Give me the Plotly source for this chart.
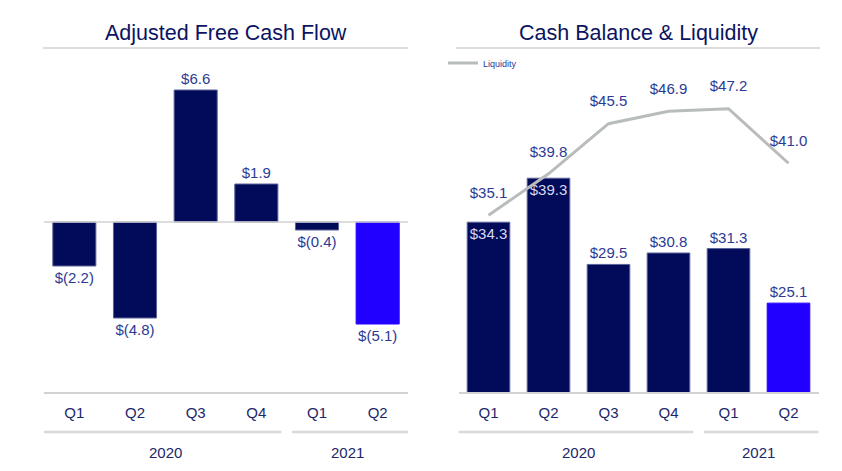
import plotly.graph_objects as go

# ---- data ----
quarters = ["Q1", "Q2", "Q3", "Q4", "Q1", "Q2"]
years = ["2020", "2020", "2020", "2020", "2021", "2021"]
fcf = [-2.2, -4.8, 6.6, 1.9, -0.4, -5.1]
cash = [34.3, 39.3, 29.5, 30.8, 31.3, 25.1]
liquidity = [35.1, 39.8, 45.5, 46.9, 47.2, 41.0]
highlight = [False, False, False, False, False, True]

# ---- style ----
NAVY = "#020a5a"
BRIGHT = "#2200ff"
LABEL = "#2b3a95"
AXIS_TXT = "#1c2769"
TITLE = "#0b1462"
GRID = "#d2d2d2"
LINE = "#b9bcbc"
FONT = "Arial, Liberation Sans, sans-serif"

W, H = 842, 471
def px_x(p): return p / W
def px_y(p): return 1 - p / H

idx = list(range(len(quarters)))
bar_colors = [BRIGHT if h else NAVY for h in highlight]
edge_colors = [BRIGHT if h else "#5c6399" for h in highlight]

def money(v):
    return f"$({abs(v):.1f})" if v < 0 else f"${v:.1f}"

fig = go.Figure()

# Left: adjusted free cash flow
fig.add_trace(go.Bar(
    x=idx, y=fcf, xaxis="x", yaxis="y",
    marker=dict(color=bar_colors, line=dict(color=edge_colors, width=1)),
    text=[money(v) for v in fcf], textposition="outside", textangle=0,
    textfont=dict(color=LABEL, size=15, family=FONT),
    cliponaxis=False, showlegend=False, width=0.71,
))

# Right: cash balance bars
inside = [v >= 34 for v in cash]
fig.add_trace(go.Bar(
    x=idx, y=cash, xaxis="x2", yaxis="y2",
    marker=dict(color=bar_colors, line=dict(color=edge_colors, width=1)),
    text=[money(v) for v in cash],
    textposition=["inside" if i else "outside" for i in inside],
    insidetextanchor="end", textangle=0,
    textfont=dict(color=["#d6d8f0" if i else LABEL for i in inside], size=15, family=FONT),
    constraintext="none",
    cliponaxis=False, showlegend=False, width=0.71,
))

# Right: liquidity line
fig.add_trace(go.Scatter(
    x=idx, y=liquidity, xaxis="x2", yaxis="y2",
    mode="lines+markers+text", name="Liquidity",
    line=dict(color=LINE, width=3),
    marker=dict(size=20, color="rgba(0,0,0,0)"),
    text=[money(v) for v in liquidity], textposition="top center",
    textfont=dict(color=LABEL, size=15, family=FONT),
    cliponaxis=False,
))

ydom = [px_y(392), px_y(48)]
left_dom = [px_x(44), px_x(408)]
right_dom = [px_x(458.5), px_x(818.5)]

common_x = dict(
    tickvals=idx, ticktext=quarters, range=[-0.5, len(idx) - 0.5],
    showgrid=False, zeroline=False, showline=True, linecolor=GRID, linewidth=1.5,
    ticks="outside", ticklen=6, tickcolor="rgba(0,0,0,0)",
    tickfont=dict(color=AXIS_TXT, size=15, family=FONT), fixedrange=True,
)

fig.update_layout(
    width=W, height=H, margin=dict(l=0, r=0, t=0, b=0),
    paper_bgcolor="white", plot_bgcolor="white",
    font=dict(family=FONT),
    bargap=0.29,
    xaxis=dict(domain=left_dom, anchor="y", **common_x),
    yaxis=dict(domain=ydom, range=[-8.5, 8.7], visible=False, fixedrange=True),
    xaxis2=dict(domain=right_dom, anchor="y2", **common_x),
    yaxis2=dict(domain=ydom, range=[15.0, 54.1], visible=False, fixedrange=True),
    legend=dict(x=px_x(443), y=px_y(63), xanchor="left", yanchor="middle",
                orientation="h", font=dict(size=9, color=LABEL, family=FONT),
                bgcolor="rgba(0,0,0,0)", itemwidth=30),
)

shapes = []
annotations = []
# title underlines
for x0, x1 in [(43, 408), (456, 820)]:
    shapes.append(dict(type="line", xref="paper", yref="paper",
                       x0=px_x(x0), x1=px_x(x1), y0=px_y(48), y1=px_y(48),
                       line=dict(color=GRID, width=1.5)))
# zero line left chart
shapes.append(dict(type="line", xref="x", yref="y", x0=-0.5, x1=len(idx) - 0.5,
                   y0=0, y1=0, line=dict(color=GRID, width=1.5)))

# titles
annotations.append(dict(text="Adjusted Free Cash Flow", x=px_x(226), y=px_y(33),
                        xref="paper", yref="paper", showarrow=False,
                        xanchor="center", yanchor="middle",
                        font=dict(size=21.5, color=TITLE, family=FONT)))
annotations.append(dict(text="Cash Balance & Liquidity", x=px_x(638), y=px_y(33),
                        xref="paper", yref="paper", showarrow=False,
                        xanchor="center", yanchor="middle",
                        font=dict(size=21.5, color=TITLE, family=FONT)))

# year groups
groups = []
for i, yv in enumerate(years):
    if groups and groups[-1][0] == yv:
        groups[-1][2] = i
    else:
        groups.append([yv, i, i])
for xr in ["x", "x2"]:
    for gi, (yv, a, b) in enumerate(groups):
        x0 = a - 0.5 + (0.09 if gi > 0 else 0)
        x1 = b + 0.5 - (0.09 if gi < len(groups) - 1 else 0)
        shapes.append(dict(type="line", xref=xr, yref="paper", x0=x0, x1=x1,
                           y0=px_y(432), y1=px_y(432),
                           line=dict(color="#d9d9d9", width=2.5)))
        annotations.append(dict(text=yv, x=(a + b) / 2, y=px_y(452), xref=xr,
                                yref="paper", showarrow=False,
                                xanchor="center", yanchor="middle",
                                font=dict(size=15, color=AXIS_TXT, family=FONT)))

fig.update_layout(shapes=shapes, annotations=annotations)
fig.write_html("out.html")
